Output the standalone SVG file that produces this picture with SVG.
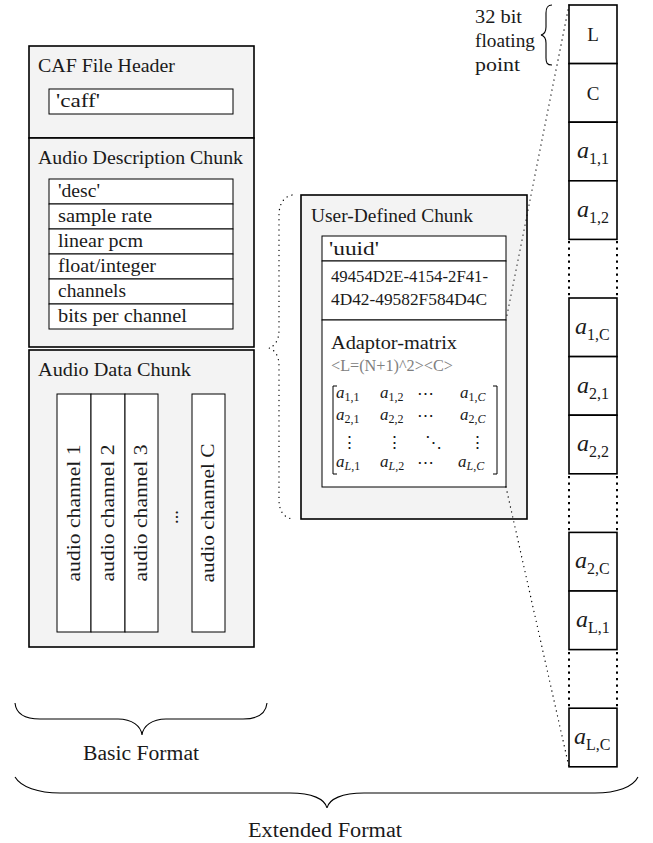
<svg xmlns="http://www.w3.org/2000/svg" width="653" height="843" viewBox="0 0 653 843">
<style>
.outer{fill:#f3f3f3;stroke:#000;stroke-width:1.6}
.inner{fill:#fff;stroke:#000;stroke-width:1}
.cell{fill:#fff;stroke:#000;stroke-width:1.6}
.t{font-family:"Liberation Serif","Times New Roman",serif;fill:#1a1a1a;font-size:18.5px}
.s{font-size:16.5px}
.big{font-size:20.5px}
.gray{fill:#808080}
.m{font-family:"Liberation Serif","DejaVu Serif",serif;fill:#1a1a1a;font-size:17px}
.it{font-style:italic}
.sub{font-size:12px}
.rl{font-family:"Liberation Serif","Times New Roman",serif;fill:#1a1a1a;font-size:19px}
.ra{font-size:24px;font-style:italic}
.rs{font-size:16px}
.dot{fill:none;stroke:#000;stroke-width:1.3;stroke-dasharray:0.1 5;stroke-linecap:round}
.gap{fill:none;stroke:#000;stroke-width:2;stroke-dasharray:2.2 4.3}
.brace{fill:none;stroke:#000;stroke-width:1.1}
.line{fill:none;stroke:#000;stroke-width:1}
</style>
<rect x="0" y="0" width="653" height="843" fill="#fff"/>

<g id="caf-header">
<rect class="outer" x="29" y="46" width="225" height="92"/>
<text class="t" x="38" y="72" textLength="137" lengthAdjust="spacingAndGlyphs">CAF File Header</text>
<rect class="inner" x="49" y="89" width="184" height="25"/>
<text class="t" x="56" y="107" textLength="44" lengthAdjust="spacingAndGlyphs">'caff'</text>
</g>

<g id="audio-description-chunk">
<rect class="outer" x="29" y="138" width="225" height="209"/>
<text class="t" x="38" y="164" textLength="205" lengthAdjust="spacingAndGlyphs">Audio Description Chunk</text>
<rect class="inner" x="49" y="179" width="184" height="25"/>
<rect class="inner" x="49" y="204" width="184" height="25"/>
<rect class="inner" x="49" y="229" width="184" height="25"/>
<rect class="inner" x="49" y="254" width="184" height="25"/>
<rect class="inner" x="49" y="279" width="184" height="25"/>
<rect class="inner" x="49" y="304" width="184" height="25"/>
<text class="t" x="58" y="197" textLength="42" lengthAdjust="spacingAndGlyphs">'desc'</text>
<text class="t" x="58" y="222" textLength="94" lengthAdjust="spacingAndGlyphs">sample rate</text>
<text class="t" x="58" y="247" textLength="85" lengthAdjust="spacingAndGlyphs">linear pcm</text>
<text class="t" x="58" y="272" textLength="98" lengthAdjust="spacingAndGlyphs">float/integer</text>
<text class="t" x="58" y="297" textLength="68" lengthAdjust="spacingAndGlyphs">channels</text>
<text class="t" x="58" y="322" textLength="129" lengthAdjust="spacingAndGlyphs">bits per channel</text>
</g>

<g id="audio-data-chunk">
<rect class="outer" x="29" y="350" width="225" height="297"/>
<text class="t" x="38" y="376" textLength="153" lengthAdjust="spacingAndGlyphs">Audio Data Chunk</text>
<rect class="inner" x="57" y="394" width="34" height="238"/>
<rect class="inner" x="91" y="394" width="34" height="238"/>
<rect class="inner" x="125" y="394" width="33" height="238"/>
<rect class="inner" x="192" y="394" width="33" height="238"/>
<text class="t" text-anchor="middle" transform="translate(80,513) rotate(-90)" textLength="137" lengthAdjust="spacingAndGlyphs">audio channel 1</text>
<text class="t" text-anchor="middle" transform="translate(114,513) rotate(-90)" textLength="137" lengthAdjust="spacingAndGlyphs">audio channel 2</text>
<text class="t" text-anchor="middle" transform="translate(147,513) rotate(-90)" textLength="137" lengthAdjust="spacingAndGlyphs">audio channel 3</text>
<text class="t" text-anchor="middle" transform="translate(178,517) rotate(-90)">...</text>
<text class="t" text-anchor="middle" transform="translate(214,513) rotate(-90)" textLength="139" lengthAdjust="spacingAndGlyphs">audio channel C</text>
</g>

<g id="user-defined-chunk">
<rect class="outer" x="301" y="195" width="226" height="324"/>
<text class="t" x="311" y="222" textLength="162" lengthAdjust="spacingAndGlyphs">User-Defined Chunk</text>
<rect class="inner" x="322" y="236" width="184" height="25"/>
<rect class="inner" x="322" y="261" width="184" height="59"/>
<rect class="inner" x="322" y="320" width="184" height="167"/>
<text class="t" x="329" y="255" textLength="50" lengthAdjust="spacingAndGlyphs">'uuid'</text>
<text class="t s" x="331" y="282" textLength="157" lengthAdjust="spacingAndGlyphs">49454D2E-4154-2F41-</text>
<text class="t s" x="331" y="305" textLength="156" lengthAdjust="spacingAndGlyphs">4D42-49582F584D4C</text>
<text class="t" x="331" y="349" textLength="126" lengthAdjust="spacingAndGlyphs">Adaptor-matrix</text>
<text class="t s gray" x="331" y="371" textLength="122" lengthAdjust="spacingAndGlyphs">&lt;L=(N+1)^2&gt;&lt;C&gt;</text>
<path class="line" d="M337,386 H333 V474 H337 M493,386 H497 V474 H493"/>
<text class="m" x="336" y="398"><tspan class="it">a</tspan><tspan class="sub" dy="3">1,1</tspan></text>
<text class="m" x="380" y="398"><tspan class="it">a</tspan><tspan class="sub" dy="3">1,2</tspan></text>
<text class="m" x="425" y="399" text-anchor="middle">⋯</text>
<text class="m" x="460" y="398"><tspan class="it">a</tspan><tspan class="sub" dy="3">1,<tspan class="it">C</tspan></tspan></text>
<text class="m" x="336" y="420"><tspan class="it">a</tspan><tspan class="sub" dy="3">2,1</tspan></text>
<text class="m" x="380" y="420"><tspan class="it">a</tspan><tspan class="sub" dy="3">2,2</tspan></text>
<text class="m" x="425" y="421" text-anchor="middle">⋯</text>
<text class="m" x="460" y="420"><tspan class="it">a</tspan><tspan class="sub" dy="3">2,<tspan class="it">C</tspan></tspan></text>
<text class="m" x="349" y="448" text-anchor="middle">⋮</text>
<text class="m" x="394" y="448" text-anchor="middle">⋮</text>
<text class="m" x="433" y="448" text-anchor="middle">⋱</text>
<text class="m" x="477" y="448" text-anchor="middle">⋮</text>
<text class="m" x="336" y="467"><tspan class="it">a</tspan><tspan class="sub" dy="3"><tspan class="it">L</tspan>,1</tspan></text>
<text class="m" x="380" y="467"><tspan class="it">a</tspan><tspan class="sub" dy="3"><tspan class="it">L</tspan>,2</tspan></text>
<text class="m" x="425" y="468" text-anchor="middle">⋯</text>
<text class="m" x="458" y="467"><tspan class="it">a</tspan><tspan class="sub" dy="3"><tspan class="it">L</tspan>,<tspan class="it">C</tspan></tspan></text>
</g>

<g id="value-column">
<rect class="cell" x="569" y="5" width="48" height="58.6"/>
<rect class="cell" x="569" y="63.6" width="48" height="58.6"/>
<rect class="cell" x="569" y="122.2" width="48" height="58.6"/>
<rect class="cell" x="569" y="180.8" width="48" height="58.6"/>
<rect class="cell" x="569" y="298" width="48" height="58.6"/>
<rect class="cell" x="569" y="356.6" width="48" height="58.6"/>
<rect class="cell" x="569" y="415.2" width="48" height="58.6"/>
<rect class="cell" x="569" y="532.4" width="48" height="58.6"/>
<rect class="cell" x="569" y="591" width="48" height="58.6"/>
<rect class="cell" x="569" y="708.2" width="48" height="58.6"/>
<text class="rl" x="593" y="41" text-anchor="middle">L</text>
<text class="rl" x="593" y="99.5" text-anchor="middle">C</text>
<text class="rl" x="577" y="158"><tspan class="ra">a</tspan><tspan class="rs" dy="6">1,1</tspan></text>
<text class="rl" x="577" y="217"><tspan class="ra">a</tspan><tspan class="rs" dy="6">1,2</tspan></text>
<text class="rl" x="575" y="334"><tspan class="ra">a</tspan><tspan class="rs" dy="6">1,C</tspan></text>
<text class="rl" x="577" y="393"><tspan class="ra">a</tspan><tspan class="rs" dy="6">2,1</tspan></text>
<text class="rl" x="577" y="451"><tspan class="ra">a</tspan><tspan class="rs" dy="6">2,2</tspan></text>
<text class="rl" x="575" y="568"><tspan class="ra">a</tspan><tspan class="rs" dy="6">2,C</tspan></text>
<text class="rl" x="576" y="627"><tspan class="ra">a</tspan><tspan class="rs" dy="6">L,1</tspan></text>
<text class="rl" x="574" y="744"><tspan class="ra">a</tspan><tspan class="rs" dy="6">L,C</tspan></text>
<path class="gap" d="M569,241 V298 M617,241 V298 M569,476 V532 M617,476 V532 M569,652 V708 M617,652 V708"/>
</g>

<g id="annotations">
<path class="brace" d="M552,5 C547,5 546,8 546,13 L546,27 C546,31 545,34 541,35 C545,36 546,39 546,43 L546,58 C546,63 547,65 552,65"/>
<text class="t" x="475" y="23" textLength="47" lengthAdjust="spacingAndGlyphs">32 bit</text>
<text class="t" x="475" y="47" textLength="60" lengthAdjust="spacingAndGlyphs">floating</text>
<text class="t" x="475" y="71" textLength="45" lengthAdjust="spacingAndGlyphs">point</text>
<path class="brace" d="M15,703 C16,713 24,719 40,719 L118,719 C132,719 141,726 142,735 C143,726 152,719 166,719 L243,719 C259,719 266,713 267,703"/>
<text class="t big" x="141" y="760" text-anchor="middle" textLength="116" lengthAdjust="spacingAndGlyphs">Basic Format</text>
<path class="brace" d="M15,777 C21,787 38,793 60,793 L290,793 C312,793 325,799 327,808 C329,799 342,793 364,793 L595,793 C617,793 633,787 638,777"/>
<text class="t big" x="325" y="837" text-anchor="middle" textLength="154" lengthAdjust="spacingAndGlyphs">Extended Format</text>
</g>

<g id="connectors">
<path class="dot" d="M569,5 L506,320"/>
<path class="dot" d="M506,487 L569,767"/>
<path class="dot" d="M292,195 C283,197 279,205 279,215 L279,330 C279,340 275,346 269,348 C275,350 279,356 279,366 L279,500 C279,510 283,517 292,519"/>
</g>
</svg>
